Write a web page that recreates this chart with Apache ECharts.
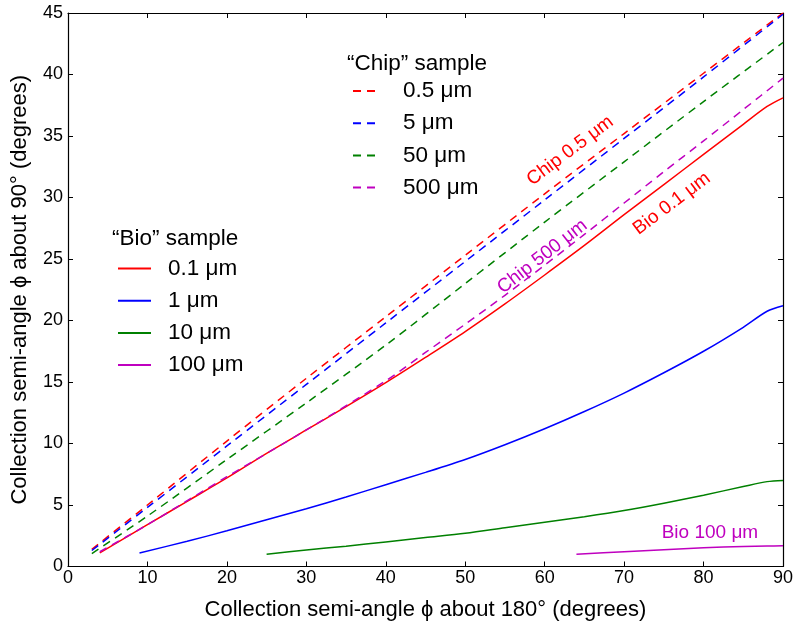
<!DOCTYPE html>
<html>
<head>
<meta charset="utf-8">
<script src="https://cdn.jsdelivr.net/npm/echarts@6/dist/echarts.min.js"></script>
<style>html,body{margin:0;padding:0;background:#fff}#c{width:800px;height:631px}</style>
</head>
<body>
<div id="c"></div>
<script>
// ---- data (x = semi-angle about 180°, y = semi-angle about 90°) ----
var bio01 = [[4,1.1],[10,3.4],[15,5.3],[20,7.2],[25,9.2],[30,11.1],[35,13.0],[40,14.95],[45,17.0],[50,19.1],[55,21.35],[60,23.7],[65,26.1],[70,28.6],[75,31.05],[80,33.5],[85,35.95],[88,37.4],[90,38.1]];
var bio1 = [[9,1.1],[15,2.05],[20,2.9],[25,3.8],[30,4.7],[35,5.65],[40,6.65],[45,7.65],[50,8.7],[55,9.9],[60,11.2],[65,12.6],[70,14.1],[75,15.75],[80,17.5],[85,19.45],[88,20.75],[90,21.2]];
var bio10 = [[25,1.0],[30,1.35],[35,1.65],[40,2.0],[45,2.35],[50,2.7],[55,3.15],[60,3.6],[65,4.05],[70,4.55],[75,5.15],[80,5.8],[85,6.5],[88,6.9],[90,7.0]];
var bio100 = [[64,1.0],[70,1.2],[75,1.37],[80,1.52],[85,1.63],[88,1.67],[90,1.68]];
var chip05 = [[3,1.4],[10,5.0],[20,10.2],[30,15.3],[40,20.3],[50,25.3],[60,30.3],[70,35.2],[80,40.1],[90,45.0]];
var chip5 = [[3,1.3],[10,4.8],[20,9.8],[30,14.8],[40,19.8],[50,24.8],[60,29.8],[70,34.8],[80,39.8],[90,44.9]];
var chip50 = [[3,1.05],[10,4.1],[20,8.7],[30,13.3],[40,18.0],[50,23.0],[60,28.0],[70,32.9],[80,37.8],[90,42.6]];
var chip500 = [[4,1.2],[10,3.4],[20,7.3],[30,11.1],[40,15.1],[45,17.4],[50,19.7],[55,22.05],[60,24.5],[65,27.0],[70,29.55],[75,32.1],[80,34.6],[85,37.15],[90,39.7]];

var bioNames = ['0.1 μm','1 μm','10 μm','100 μm'];
var chipNames = ['0.5 μm','5 μm','50 μm','500 μm'];
var xTicks = [0,10,20,30,40,50,60,70,80,90];
var yTicks = [0,5,10,15,20,25,30,35,40,45];

// annotations: [text, x, y, rotation]
var annChip05 = ['Chip 0.5 μm', 63.2, 33.8, 37];
var annBio01 = ['Bio 0.1 μm', 76.0, 29.5, 37];
var annChip500 = ['Chip 500 μm', 59.7, 25.2, 38];
var annBio100 = ['Bio 100 μm', 80.8, 2.73, 0];

var RED = '#ff0000', BLUE = '#0000ff', GREEN = '#008000', MAG = '#bf00bf';
var FONT = '"Liberation Sans", Arial, Helvetica, sans-serif';
var DASH = [8, 6];

function ann(a, color) {
  return {
    symbol: 'circle', symbolSize: 0, silent: true,
    data: [{ coord: [a[1], a[2]],
      label: { show: true, position: 'inside', formatter: a[0], rotate: a[3],
        color: color, fontSize: 19, fontFamily: FONT } }]
  };
}

function line(name, data, color, dashed, extra) {
  var s = {
    name: name, type: 'line', data: data, symbol: 'none', smooth: 0.3,
    xAxisIndex: 0, yAxisIndex: 0, animation: false,
    lineStyle: { color: color, width: 1.5, type: dashed ? DASH : 'solid' },
    itemStyle: { color: color }
  };
  if (extra) s.markPoint = extra;
  return s;
}

var chart = echarts.init(document.getElementById('c'));
var axisCommon = {
  type: 'value',
  axisLine: { show: true, onZero: false, lineStyle: { color: '#000', width: 1.2 } },
  axisTick: { show: true, inside: true, length: 5, lineStyle: { color: '#000' } },
  splitLine: { show: false }
};
var legendCommon = {
  orient: 'vertical', itemHeight: 14, itemGap: 9.2, selectedMode: false,
  itemStyle: { opacity: 0, color: 'transparent', borderWidth: 0 }
};
chart.setOption({
  animation: false,
  backgroundColor: '#fff',
  grid: { left: 68, right: 17, top: 13, bottom: 64.5, containLabel: false },
  xAxis: [
    Object.assign({}, axisCommon, {
      min: xTicks[0], max: xTicks[xTicks.length - 1], interval: 10, position: 'bottom',
      name: 'Collection semi-angle ϕ about 180° (degrees)', nameLocation: 'middle', nameGap: 32,
      nameTextStyle: { fontSize: 22, color: '#000', fontFamily: FONT },
      axisLabel: { margin: 3, fontSize: 18, color: '#000', fontFamily: FONT }
    }),
    Object.assign({}, axisCommon, {
      min: xTicks[0], max: xTicks[xTicks.length - 1], interval: 10, position: 'top',
      axisLabel: { show: false }
    })
  ],
  yAxis: [
    Object.assign({}, axisCommon, {
      min: yTicks[0], max: yTicks[yTicks.length - 1], interval: 5, position: 'left',
      name: 'Collection semi-angle ϕ about 90° (degrees)', nameLocation: 'middle', nameGap: 37,
      nameTextStyle: { fontSize: 22, color: '#000', fontFamily: FONT },
      axisLabel: { margin: 5, fontSize: 18, color: '#000', fontFamily: FONT }
    }),
    Object.assign({}, axisCommon, {
      min: yTicks[0], max: yTicks[yTicks.length - 1], interval: 5, position: 'right',
      axisLabel: { show: false }
    })
  ],
  legend: [
    Object.assign({}, legendCommon, {
      data: chipNames, left: 347, top: 74.5, itemWidth: 28,
      textStyle: { fontSize: 22.5, color: '#000', fontFamily: FONT, padding: [0, 0, 0, 17] }
    }),
    Object.assign({}, legendCommon, {
      data: bioNames, left: 112, top: 252, itemWidth: 33,
      textStyle: { fontSize: 22.5, color: '#000', fontFamily: FONT, padding: [0, 0, 0, 12] }
    })
  ],
  graphic: [
    { type: 'text', left: 347, top: 52, style: { text: '“Chip” sample', fontSize: 22.5, fill: '#000', fontFamily: FONT } },
    { type: 'text', left: 112, top: 227, style: { text: '“Bio” sample', fontSize: 22.5, fill: '#000', fontFamily: FONT } }
  ],
  series: [
    line(bioNames[0], bio01, RED, false, ann(annBio01, RED)),
    line(bioNames[1], bio1, BLUE, false),
    line(bioNames[2], bio10, GREEN, false),
    line(bioNames[3], bio100, MAG, false, ann(annBio100, MAG)),
    line(chipNames[0], chip05, RED, true, ann(annChip05, RED)),
    line(chipNames[1], chip5, BLUE, true),
    line(chipNames[2], chip50, GREEN, true),
    line(chipNames[3], chip500, MAG, true, ann(annChip500, MAG))
  ]
});
</script>
</body>
</html>
